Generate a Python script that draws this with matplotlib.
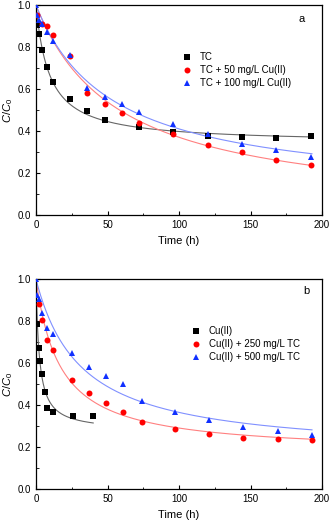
import numpy as np
import matplotlib.pyplot as plt
from matplotlib.ticker import MultipleLocator

plt.rcParams['font.family'] = ['Liberation Sans', 'DejaVu Sans']
plt.rcParams['mathtext.fontset'] = 'custom'
plt.rcParams['mathtext.rm'] = 'Liberation Sans'
plt.rcParams['mathtext.it'] = 'Liberation Sans:italic'

# Panel a: TC removal
t_tc = [1, 2, 4, 8, 12, 24, 36, 48, 72, 96, 120, 144, 168, 192]
c_tc = [0.905, 0.864, 0.786, 0.706, 0.635, 0.554, 0.495, 0.453, 0.420, 0.398, 0.379, 0.371, 0.369, 0.376]
t_tc50 = [1, 4, 8, 12, 24, 36, 48, 60, 72, 96, 120, 144, 168, 192]
c_tc50 = [0.952, 0.913, 0.899, 0.857, 0.757, 0.580, 0.529, 0.486, 0.441, 0.386, 0.336, 0.301, 0.265, 0.238]
t_tc100 = [0, 1, 2, 4, 8, 12, 24, 36, 48, 60, 72, 96, 120, 144, 168, 192]
c_tc100 = [1.0, 0.955, 0.93, 0.91, 0.871, 0.831, 0.761, 0.607, 0.564, 0.528, 0.491, 0.434, 0.385, 0.342, 0.310, 0.279]

# Panel b: Cu(II) removal
t_cu = [1, 2, 3, 4, 6, 8, 12, 26, 40]
c_cu = [0.786, 0.673, 0.611, 0.549, 0.465, 0.389, 0.368, 0.350, 0.350]
t_cu250 = [2, 4, 8, 12, 25, 37, 49, 61, 74, 97, 121, 145, 169, 193]
c_cu250 = [0.881, 0.807, 0.711, 0.662, 0.523, 0.460, 0.410, 0.368, 0.322, 0.289, 0.263, 0.243, 0.240, 0.233]
t_cu500 = [0, 1, 2, 4, 8, 12, 25, 37, 49, 61, 74, 97, 121, 145, 169, 193]
c_cu500 = [1.0, 0.925, 0.905, 0.841, 0.767, 0.740, 0.651, 0.584, 0.540, 0.501, 0.422, 0.370, 0.330, 0.298, 0.279, 0.259]


def pso_fit(t, c):
    # pseudo-second-order form: C/C0 = 1 - A*t/(t+B), least squares over B
    t = np.asarray(t, float)
    c = np.asarray(c, float)
    best = None
    for B in np.linspace(0.5, 300, 3000):
        x = t / (t + B)
        A = np.sum(x * (1 - c)) / np.sum(x * x)
        err = np.sum((1 - A * x - c) ** 2)
        if best is None or err < best[0]:
            best = (err, A, B)
    return best[1], best[2]


def fit_curve(t, c, tmax):
    A, B = pso_fit(t, c)
    tt = np.linspace(0, tmax, 400)
    return tt, 1 - A * tt / (tt + B)


fig = plt.figure(figsize=(3.31, 5.24), dpi=100)
ax_a = fig.add_axes([0.1088, 0.589, 0.864, 0.401])
ax_b = fig.add_axes([0.1088, 0.066, 0.864, 0.401])

series_a = [
    (t_tc, c_tc, 'TC', 's', 'black', '#666666'),
    (t_tc50, c_tc50, 'TC + 50 mg/L Cu(II)', 'o', '#ff0000', '#ff8080'),
    (t_tc100, c_tc100, 'TC + 100 mg/L Cu(II)', '^', '#1030ff', '#8090ff'),
]
series_b = [
    (t_cu, c_cu, 'Cu(II)', 's', 'black', '#666666', 40),
    (t_cu250, c_cu250, 'Cu(II) + 250 mg/L TC', 'o', '#ff0000', '#ff8080', 193),
    (t_cu500, c_cu500, 'Cu(II) + 500 mg/L TC', '^', '#1030ff', '#8090ff', 193),
]

for t, c, lab, mk, col, lcol in series_a:
    tt, cc = fit_curve(t, c, 193)
    ax_a.plot(tt, cc, color=lcol, lw=0.8, zorder=2)
    ax_a.plot(t, c, mk, color=col, ms=4.3, mew=0, label=lab, zorder=3)

for t, c, lab, mk, col, lcol, tmax in series_b:
    tt, cc = fit_curve(t, c, tmax)
    ax_b.plot(tt, cc, color=lcol, lw=0.8, zorder=2)
    ax_b.plot(t, c, mk, color=col, ms=4.3, mew=0, label=lab, zorder=3)

for ax, letter, lx, ly, lbx, lby in [(ax_a, 'a', 0.929, 0.933, 0.511, 0.776),
                                     (ax_b, 'b', 0.944, 0.946, 0.543, 0.777)]:
    ax.set_xlim(0, 200)
    ax.set_ylim(0, 1.0)
    ax.xaxis.set_major_locator(MultipleLocator(50))
    ax.xaxis.set_minor_locator(MultipleLocator(25))
    ax.yaxis.set_major_locator(MultipleLocator(0.2))
    ax.yaxis.set_minor_locator(MultipleLocator(0.1))
    ax.yaxis.set_major_formatter(plt.FormatStrFormatter('%.1f'))
    ax.tick_params(which='both', direction='in', labelsize=7, top=False, right=False)
    ax.tick_params(which='major', length=3, width=0.8)
    ax.tick_params(which='minor', length=1.8, width=0.6)
    for s in ax.spines.values():
        s.set_linewidth(0.9)
    ax.set_xlabel('Time (h)', fontsize=8, labelpad=4)
    ax.set_ylabel(r'$\mathit{C/C}_0$', fontsize=8, labelpad=2)
    ax.text(lx, ly, letter, transform=ax.transAxes, fontsize=8, ha='center', va='center')
    ax.legend(loc='upper left', bbox_to_anchor=(lbx, lby), frameon=False, fontsize=7,
              handlelength=1.0, handletextpad=0.8, labelspacing=0.3, borderaxespad=0,
              borderpad=0)

fig.savefig('out.png', dpi=100)
